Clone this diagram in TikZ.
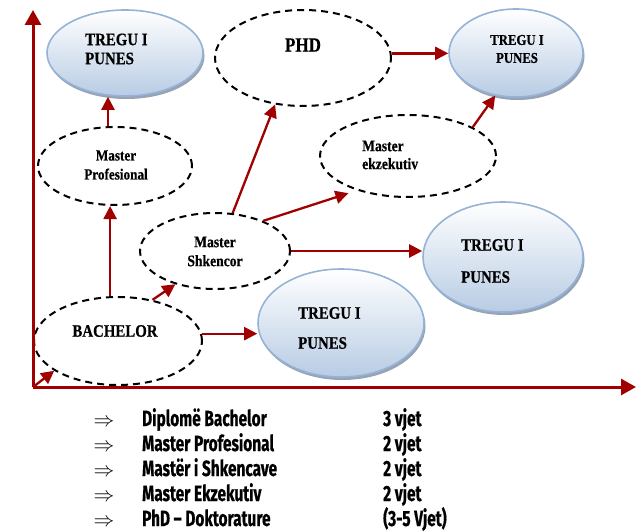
\documentclass[tikz,border=0pt]{standalone}
\usepackage{fontspec}
\usetikzlibrary{arrows.meta,shapes.geometric,shadows}
\newfontfamily\hfont{Liberation Serif Bold}[FakeStretch=0.85, FakeBold=0.6]
\newfontfamily\lfont{Fira Sans Bold}[FakeStretch=0.70, FakeBold=0.6]
\definecolor{arrred}{RGB}{160,0,0}
\definecolor{bluebd}{RGB}{149,179,215}
\definecolor{bluebot}{RGB}{184,204,228}
\definecolor{shadowc}{RGB}{140,152,170}
\begin{document}
\begin{tikzpicture}[x=1pt,y=-1pt,
  dashell/.style={ellipse, draw=black, line width=2pt, dash pattern=on 7pt off 5pt, inner sep=0pt},
  blueell/.style={ellipse, draw=bluebd, line width=1.6pt, top color=white, bottom color=bluebot, inner sep=0pt,
     drop shadow={shadow xshift=1.5pt, shadow yshift=-3pt, fill=shadowc, opacity=0.9}},
  arr/.style={draw=arrred, color=arrred, line width=2.3pt, -{Triangle[length=13pt,width=13pt]}},
  axis/.style={draw=arrred, color=arrred, line width=3pt, -{Triangle[length=15pt,width=16pt]}},
  lbl/.style={inner sep=0pt, align=center, font=\hfont\fontsize{16}{19}\selectfont},
  lst/.style={inner sep=0pt, anchor=base west, font=\lfont\fontsize{22}{25}\selectfont},
  imp/.style={inner sep=0pt, anchor=base, font=\fontsize{20}{20}\selectfont}
]
\useasboundingbox (0,0) rectangle (643,532);

% ellipses
\node[blueell, minimum width=156pt, minimum height=86pt] (tl) at (125,53) {};
\node[blueell, minimum width=134pt, minimum height=88pt] (tr) at (516,53) {};
\node[blueell, minimum width=160pt, minimum height=110pt] (tm) at (503,257) {};
\node[blueell, minimum width=166pt, minimum height=108pt] (tb) at (341,323) {};
\node[dashell, minimum width=176pt, minimum height=96pt] (phd) at (303,58) {};
\node[dashell, minimum width=154pt, minimum height=78pt] (prof) at (115,166) {};
\node[dashell, minimum width=176pt, minimum height=82pt] (ekz) at (408,156) {};
\node[dashell, minimum width=150pt, minimum height=76pt] (shk) at (215,251) {};
\node[dashell, minimum width=168pt, minimum height=88pt] (bach) at (118,341) {};

% texts
\node[lbl, anchor=west, align=left, font=\hfont\fontsize{17.5}{19}\selectfont] (tlT) at (85,49) {TREGU I\\PUNES};
\node[lbl, font=\hfont\fontsize{15}{18}\selectfont] (trT) at (517,49) {TREGU I\\PUNES};
\node[lbl, anchor=west, align=left, font=\hfont\fontsize{17.5}{32}\selectfont] (tmT) at (461,261) {TREGU I\\PUNES};
\node[lbl, anchor=west, align=left, font=\hfont\fontsize{17.5}{30}\selectfont] (tbT) at (298,328) {TREGU I\\PUNES};
\node[lbl, font=\hfont\fontsize{20}{24}\selectfont] (phdT) at (303,45) {PHD};
\node[lbl, font=\hfont\fontsize{15.5}{19}\selectfont] (profT) at (116,165) {Master\\Profesional};
\node[lbl] (shkT) at (215,251.5) {Master\\Shkencor};
\node[lbl, anchor=west, align=left, font=\hfont\fontsize{16}{18}\selectfont] (ekzT) at (362,155) {Master\\ekzekutiv};
\node[lbl, font=\hfont\fontsize{17.5}{20}\selectfont] (bachT) at (115,331) {BACHELOR};

% axes
\coordinate (O) at (33,387);
\coordinate (ytop) at (33,10);
\coordinate (xend) at (636,387);
\draw[axis] (O) -- (ytop);
\draw[axis] (O) -- (xend);
\draw[arr] (O) -- (bach.205);

% connectors
\draw[arr] (prof.100) -- (prof.100 |- tl.south);
\draw[arr] (bach.100) -- (bach.100 |- prof.south);
\draw[arr] (bach.50) -- (shk.220);
\draw[arr] (bach.5) -- (bach.5 -| tb.west);
\draw[arr] (shk.65) -- (phd.239);
\draw[arr, shorten >=9pt] (shk.32) -- (ekz.214);
\draw[arr] (ekz.24) -- (tr.244);
\draw[arr] (phd.3) -- (phd.3 -| tr.west);
\draw[arr] (shk.east) -- (shk.east -| tm.west);

% list
\node[imp] (a1) at (104,426) {$\Rightarrow$};
\node[imp] (a2) at (104,451) {$\Rightarrow$};
\node[imp] (a3) at (104,476) {$\Rightarrow$};
\node[imp] (a4) at (104,501) {$\Rightarrow$};
\node[imp] (a5) at (104,526) {$\Rightarrow$};
\node[lst] (b1) at (142,426) {Diplomë Bachelor};
\node[lst] (b2) at (142,451) {Master Profesional};
\node[lst] (b3) at (142,476) {Mastër i Shkencave};
\node[lst] (b4) at (142,501) {Master Ekzekutiv};
\node[lst] (b5) at (142,526) {PhD – Doktorature};
\node[lst] (c1) at (383,426) {3 vjet};
\node[lst] (c2) at (383,451) {2 vjet};
\node[lst] (c3) at (383,476) {2 vjet};
\node[lst] (c4) at (383,501) {2 vjet};
\node[lst] (c5) at (383,526) {(3-5 Vjet)};
\end{tikzpicture}
\end{document}
